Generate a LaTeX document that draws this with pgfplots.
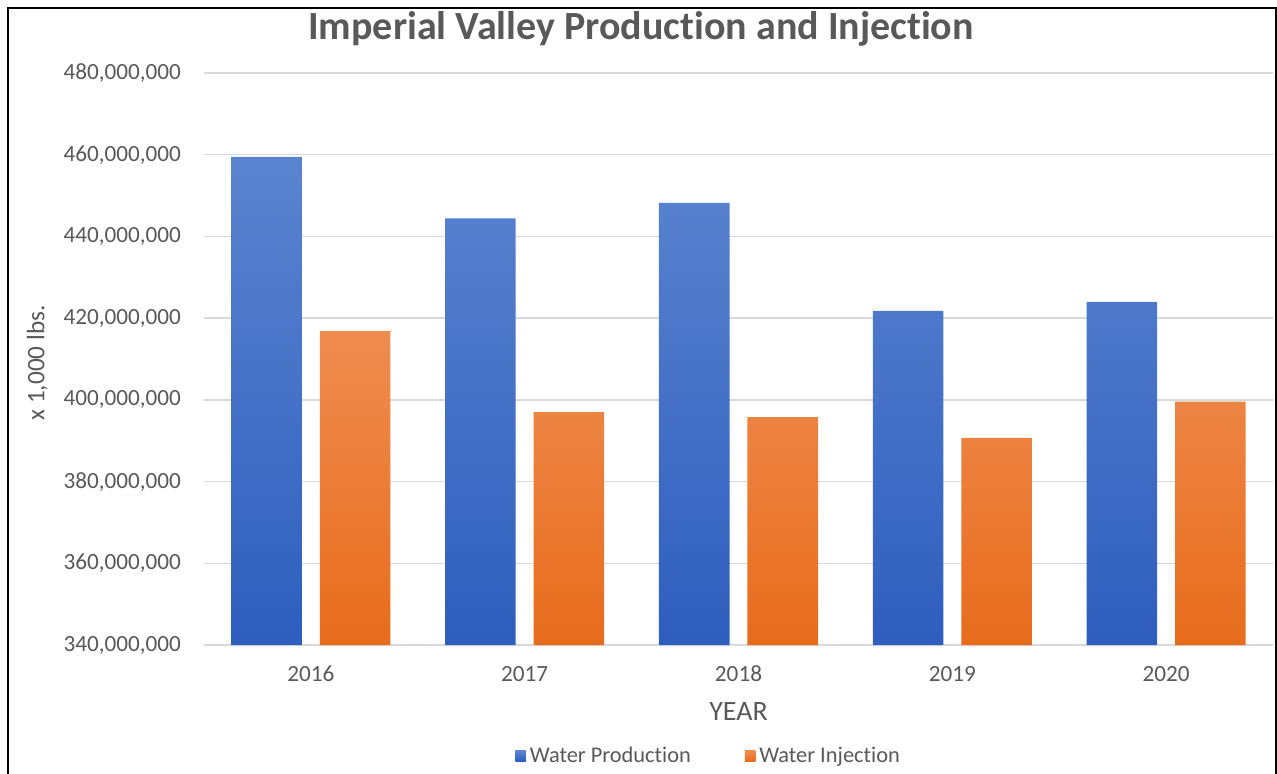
\documentclass[border=0pt]{standalone}
\usepackage{pgfplots}
\pgfplotsset{compat=1.18}
\usepackage{fontspec}
\setmainfont[Ligatures=NoCommon]{Carlito}
\definecolor{prodtop}{HTML}{5B84D0}
\definecolor{prodbot}{HTML}{2E5EBE}
\definecolor{injtop}{HTML}{EF8C50}
\definecolor{injbot}{HTML}{E86C1C}
\definecolor{txt}{HTML}{595959}
\definecolor{gridc}{HTML}{D9D9D9}
\begin{document}
\begin{tikzpicture}
\path[use as bounding box] (0,0) rectangle (638.5pt,386.5pt);
\draw[line width=0.9pt] (4pt,-2pt) -- (4pt,382.5pt) -- (637.9pt,382.5pt) -- (637.9pt,-2pt);
\node[font=\bfseries\fontsize{20}{23}\selectfont, text=txt] at (320.5pt,372pt) {Imperial Valley Production and Injection};
\begin{axis}[
  at={(102pt,64pt)}, anchor=south west, scale only axis,
  width=534.5pt, height=286pt,
  xmin=-0.5, xmax=4.5,
  ymin=340000000, ymax=480000000,
  xtick={0,1,2,3,4},
  xticklabels={2016,2017,2018,2019,2020},
  ytick={340000000,360000000,380000000,400000000,420000000,440000000,460000000,480000000},
  ymajorgrids,
  grid style={gridc, line width=0.75pt},
  axis line style={draw=none},
  major tick length=0pt,
  scaled y ticks=false,
  tick label style={font=\fontsize{11.6}{13}\selectfont, text=txt},
  yticklabel style={xshift=-8pt, /pgf/number format/fixed, /pgf/number format/precision=0, /pgf/number format/1000 sep={,}, /pgf/number format/assume math mode=true},
  xticklabel style={yshift=-7pt},
  xlabel={YEAR},
  xlabel style={at={(axis description cs:0.5,-0.117)}, anchor=center, font=\fontsize{14}{16}\selectfont, text=txt},
  ylabel={x 1,000 lbs.},
  ylabel style={at={(axis description cs:-0.156,0.493)}, anchor=center, font=\fontsize{12.6}{14}\selectfont, text=txt},
  legend columns=2,
  legend style={at={(axis description cs:0.473,-0.194)}, anchor=center, draw=none, fill=none,
    font=\fontsize{11.2}{13}\selectfont, text=txt,
    /tikz/every even column/.append style={column sep=25pt}},
  legend image code/.code={\path[#1, draw=none] (-2.5pt,-2.6pt) rectangle (2.7pt,2.6pt);},
]
\addplot[ybar, bar width=0.33, bar shift=-0.207, draw=none, top color=prodtop, bottom color=prodbot]
  coordinates {(0,459500000) (1,444400000) (2,448200000) (3,421800000) (4,424000000)};
\addlegendentry{Water Production}
\addplot[ybar, bar width=0.33, bar shift=0.207, draw=none, top color=injtop, bottom color=injbot]
  coordinates {(0,416800000) (1,397000000) (2,395800000) (3,390700000) (4,399600000)};
\addlegendentry{Water Injection}
\end{axis}
\end{tikzpicture}
\end{document}
